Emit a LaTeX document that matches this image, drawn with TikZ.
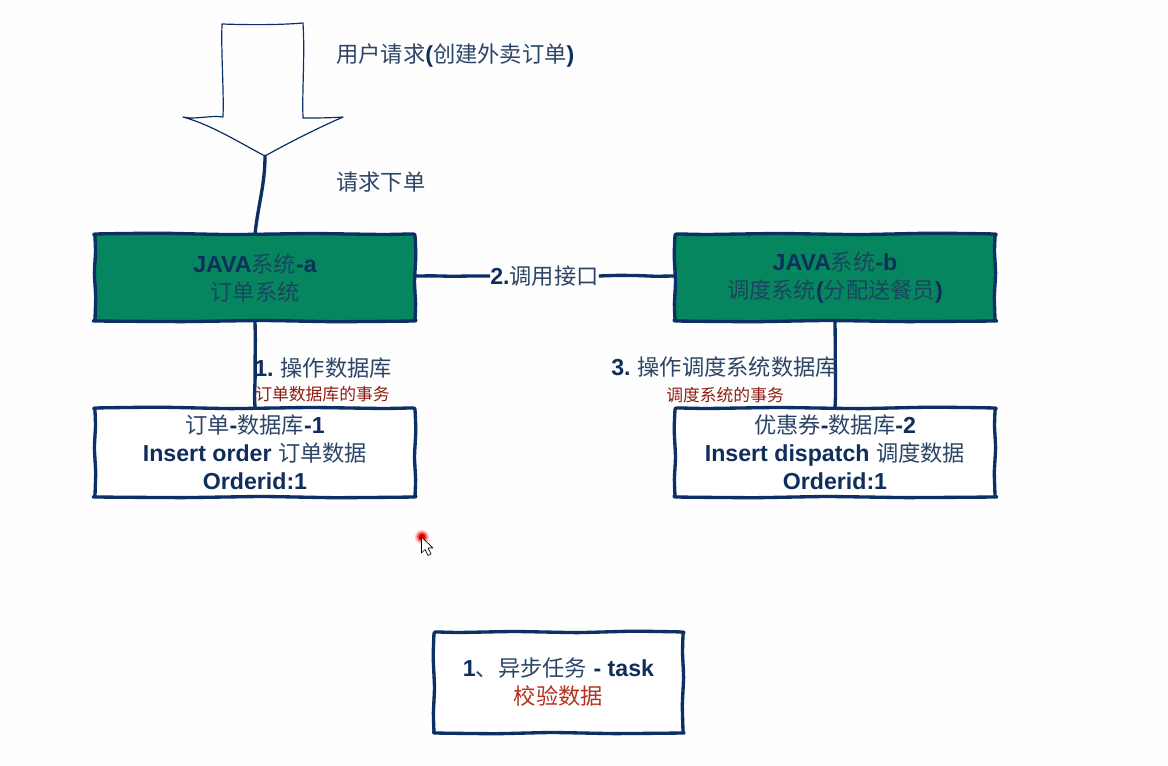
\documentclass[tikz,border=0pt]{standalone}
\usepackage{fontspec}
\setmainfont{Liberation Sans}[BoldFont={Liberation Sans Bold},Scale=1.04]
\newfontfamily\cjk{Noto Sans CJK SC}
\newcommand{\zh}[1]{{\mdseries\cjk #1}}
\newcommand{\zb}[1]{{\mdseries\cjk\color{zhblue}#1}}
\newcommand{\zg}[1]{{\mdseries\cjk\color{zhgreen}#1}}
\usetikzlibrary{decorations.pathmorphing,backgrounds}
\definecolor{inkblue}{HTML}{0C2F66}
\definecolor{textblue}{HTML}{0F2E5C}
\definecolor{zhblue}{HTML}{2C4566}
\definecolor{zhgreen}{HTML}{1A4560}
\definecolor{boxgreen}{HTML}{06865F}
\definecolor{darkred}{HTML}{8E1C12}
\definecolor{taskred}{HTML}{B5301F}
\definecolor{paper}{HTML}{FEFEFE}
\tikzset{
  x=0.75pt, y=-0.75pt,
  boxlabel/.style={inner sep=0pt, outer sep=0pt, align=center, text=textblue,
    font=\bfseries\fontsize{16.7pt}{21pt}\selectfont},
  greenbox/.style={boxlabel, minimum width=240pt, minimum height=65pt},
  dbbox/.style={boxlabel, minimum width=240pt, minimum height=66.5pt},
  taskbox/.style={boxlabel, minimum width=186.5pt, minimum height=75.5pt},
  outline/.style={draw=inkblue, line width=2.5pt, line join=round},
  wire/.style={draw=inkblue, line width=2.5pt, decorate,
    decoration={random steps, segment length=14pt, amplitude=0.5pt}},
  leadin/.style={draw=inkblue, line width=2.5pt, line cap=round},
  pen/.style={draw=inkblue, line width=0.9pt, line join=round, line cap=round},
  note/.style={anchor=west, inner sep=0pt, text=textblue,
    font=\bfseries\fontsize{16.7pt}{21pt}\selectfont},
  subnote/.style={anchor=west, inner sep=0pt, text=darkred,
    font=\fontsize{12.6pt}{15pt}\selectfont},
}
% Wobbly pen outline round a node: node name, half width, half height, fill, mirror
\newcommand{\handbox}[5]{%
  \begin{scope}[on background layer, shift={(#1.center)}, xscale=#5]
    \draw[outline, fill=#4] plot[smooth cycle, tension=0.25] coordinates {
      ({-#2+1},{-#3}) ({-#2*0.6},{-#3-0.8}) ({-#2*0.15},{-#3+0.6}) ({#2*0.35},{-#3-0.5}) ({#2*0.8},{-#3+0.5}) ({#2-2},{-#3})
      ({#2},{-#3+2}) ({#2+0.8},{-#3*0.5}) ({#2-0.5},{#3*0.1}) ({#2+0.6},{#3*0.6}) ({#2},{#3-2})
      ({#2-2},{#3}) ({#2*0.5},{#3+0.7}) ({#2*0.05},{#3-0.5}) ({-#2*0.45},{#3+0.6}) ({-#2+1},{#3})
      ({-#2},{#3-1}) ({-#2+0.7},{#3*0.45}) ({-#2-0.6},{-#3*0.1}) ({-#2+0.5},{-#3*0.6}) ({-#2},{-#3+2})
    };
  \end{scope}}
\begin{document}
\begin{tikzpicture}
\pgfmathsetseed{7}
\useasboundingbox (0,0) rectangle (1168,766);
\begin{scope}[on background layer]
  \fill[paper] (0,0) rectangle (1168,766);
\end{scope}

% Box labels
\node[greenbox] (sysa) at (255,277.5) {JAVA\zg{系统}-a\\\zg{订单系统}};
\node[greenbox] (sysb) at (835,277.5) {JAVA\zg{系统}-b\\\zg{调度系统}(\zg{分配送餐员})};
\node[dbbox] (dba) at (255,452.5) {\zb{订单}-\zb{数据库}-1\\Insert order \zb{订单数据}\\Orderid:1};
\node[dbbox] (dbb) at (835,452.5) {\zb{优惠券}-\zb{数据库}-2\\Insert dispatch \zb{调度数据}\\Orderid:1};
\node[taskbox] (task) at (558.5,682.5) {1\zb{、异步任务} - task\\\textcolor{taskred}{\zh{校验数据}}};

% Box outlines
\handbox{sysa}{160}{43.5}{boxgreen}{1}
\handbox{sysb}{160}{43.5}{boxgreen}{-1}
\handbox{dba}{160}{44.5}{white}{1}
\handbox{dbb}{160}{44.5}{white}{-1}
\handbox{task}{124.5}{50.5}{white}{-1}

% Hollow request arrow
\coordinate (tip) at (265,156);
\draw[pen] (222,24) .. controls (250,25) and (280,25) .. (303,23)
  .. controls (305,55) and (302,90) .. (303,118)
  .. controls (316,118) and (330,118) .. (343,117)
  .. controls (318,128) and (290,142) .. (tip)
  .. controls (240,143) and (212,125) .. (183,117)
  .. controls (195,120) and (210,115) .. (223,117)
  .. controls (224,90) and (221,55) .. (222,24);

% Connectors
\node[note, anchor=center] (call) at (544.5,276) {2.\zb{调用接口}};
\draw[leadin] (tip) .. controls (265,185) and (258,205) .. (sysa.north -| 255,234);
\draw[wire] (sysa.east |- call) -- (call.west);
\draw[wire] (call.east) -- (sysb.west |- call);
\draw[wire] (sysa.south) -- (dba.north);
\draw[wire] (sysb.south) -- (dbb.north);

% Free labels
\node[note] (user) at (336,55) {\zb{用户请求}(\zb{创建外卖订单})};
\node[note] (place) at (336,182) {\zb{请求下单}};
\node[note] (opa) at (254,368) {1.\hspace{0.3em}\zb{操作数据库}};
\node[subnote] (txa) at (255,394) {\zh{订单数据库的事务}};
\node[note] (opb) at (611,367) {3.\hspace{0.3em}\zb{操作调度系统数据库}};
\node[subnote] (txb) at (666,395) {\zh{调度系统的事务}};

% Pointer with its red highlight
\fill[red!22] (422,537) circle (7);
\fill[red!60] (422,537) circle (5.5);
\fill[red!85!black] (422,537) circle (3.5);
\draw[black, fill=white, line width=0.5pt, line join=round]
  (421.5,537) -- (421.5,553) -- (425,549.5) -- (428,555.5) -- (431,554) -- (428,548) -- (433,548) -- cycle;
\end{tikzpicture}
\end{document}
